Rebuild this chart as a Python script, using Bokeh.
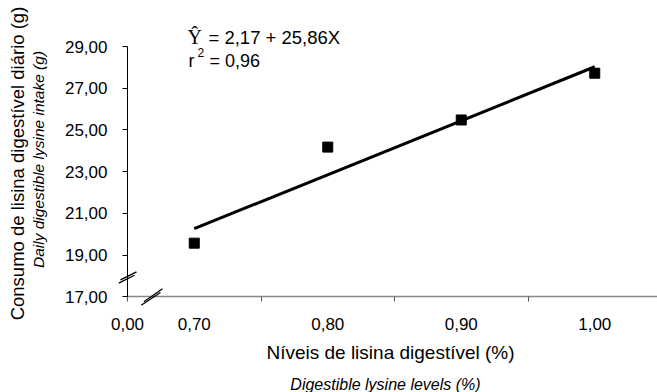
from math import pi
from bokeh.plotting import figure
from bokeh.models import Range1d, FixedTicker, Label, Arrow
from bokeh.embed import file_html
from bokeh.resources import INLINE

# ---- data ----
lysine_levels = [0.70, 0.80, 0.90, 1.00]
daily_intake = [19.58, 24.18, 25.48, 27.72]
intercept = 2.17
slope = 25.86
r_squared = 0.96
x_tick_values = [0.65, 0.70, 0.80, 0.90, 1.00]
x_tick_labels = ["0,00", "0,70", "0,80", "0,90", "1,00"]
x_minor_ticks = [0.65, 0.75, 0.85, 0.95]
y_tick_values = [17, 19, 21, 23, 25, 27, 29]
y_tick_labels = ["17,00", "19,00", "21,00", "23,00", "25,00", "27,00", "29,00"]

FONT = "Liberation Sans"

# the frame covers the whole canvas; axes are placed at fixed data locations
p = figure(width=657, height=392, output_backend="svg", toolbar_location=None,
           x_range=Range1d(0.55487, 1.047), y_range=Range1d(12.4251, 31.2036),
           min_border_left=0, min_border_right=0, min_border_top=0,
           min_border_bottom=0)
p.outline_line_color = None
p.xgrid.visible = False
p.ygrid.visible = False
p.background_fill_color = "white"
p.border_fill_color = "white"

# x axis (drawn at y = 17)
xa = p.xaxis[0]
xa.fixed_location = 17
xa.ticker = FixedTicker(ticks=x_tick_values, minor_ticks=x_minor_ticks)
xa.major_label_overrides = {v: s for v, s in zip(x_tick_values, x_tick_labels)}
xa.major_tick_out = 0
xa.major_tick_in = 0
xa.minor_tick_out = 5
xa.minor_tick_in = 0
xa.minor_tick_line_color = "#555555"
xa.axis_line_color = "#888888"
xa.axis_line_width = 1.5
xa.bounds = (0.65, 1.047)
xa.major_label_text_font = FONT
xa.major_label_text_font_size = "17px"
xa.major_label_text_color = "black"
xa.major_label_standoff = 16

# y axis (drawn at x = 0.65)
ya = p.yaxis[0]
ya.fixed_location = 0.65
ya.ticker = FixedTicker(ticks=y_tick_values)
ya.major_label_overrides = {v: s for v, s in zip(y_tick_values, y_tick_labels)}
ya.major_tick_out = 5
ya.major_tick_in = 0
ya.minor_tick_line_color = None
ya.axis_line_color = "black"
ya.major_tick_line_color = "black"
ya.bounds = (17, 29)
ya.major_label_text_font = FONT
ya.major_label_text_font_size = "17px"
ya.major_label_text_color = "black"
ya.major_label_standoff = 15

# regression line
x_fit = [lysine_levels[0], lysine_levels[-1]]
y_fit = [intercept + slope * x for x in x_fit]
p.line(x_fit, y_fit, line_color="black", line_width=3)

# observed points
p.scatter(lysine_levels, daily_intake, marker="square", size=10,
          fill_color="black", line_color="black")

# axis break marks
for xs, ys, xe, ye in [(0.64348, 17.661, 0.65524, 18.044),
                       (0.64476, 17.824, 0.65674, 18.207),
                       (0.66026, 16.607, 0.67472, 17.216),
                       (0.66221, 16.770, 0.67622, 17.393)]:
    p.add_layout(Arrow(end=None, x_start=xs, y_start=ys, x_end=xe, y_end=ye,
                       line_color="black", line_width=1.3))

# axis titles (Portuguese + English)
p.add_layout(Label(x=0.5676, y=23.395, text="Consumo de lisina digestível diário (g)",
                   angle=pi / 2, text_align="center", text_baseline="middle",
                   text_font=FONT, text_font_size="18.5px", text_color="black"))
p.add_layout(Label(x=0.58333, y=23.587, text="Daily digestible lysine intake (g)",
                   angle=pi / 2, text_align="center", text_baseline="middle",
                   text_font=FONT, text_font_style="italic", text_font_size="15.5px",
                   text_color="black"))
p.add_layout(Label(x=0.847, y=14.341, text="Níveis de lisina digestível (%)",
                   text_align="center", text_baseline="middle",
                   text_font=FONT, text_font_size="19px", text_color="black"))
p.add_layout(Label(x=0.84326, y=12.81, text="Digestible lysine levels (%)",
                   text_align="center", text_baseline="middle",
                   text_font=FONT, text_font_style="italic", text_font_size="16px",
                   text_color="black"))

# regression equation
eq_text = f"= {intercept:.2f} + {slope:.2f}X".replace(".", ",")
r2_text = f"= {r_squared:.2f}".replace(".", ",")
p.add_layout(Label(x=0.69494, y=29.44, text="Ŷ", text_align="left",
                   text_baseline="alphabetic", text_font="Liberation Serif",
                   text_font_size="20px", text_color="black"))
p.add_layout(Label(x=0.71067, y=29.44, text=eq_text,
                   text_align="left", text_baseline="alphabetic", text_font=FONT,
                   text_font_size="18.5px", text_color="black"))
p.add_layout(Label(x=0.69569, y=28.329, text="r", text_align="left",
                   text_baseline="alphabetic", text_font=FONT,
                   text_font_size="18px", text_color="black"))
p.add_layout(Label(x=0.70243, y=28.713, text="2", text_align="left",
                   text_baseline="alphabetic", text_font=FONT,
                   text_font_size="12px", text_color="black"))
p.add_layout(Label(x=0.71142, y=28.329, text=r2_text, text_align="left",
                   text_baseline="alphabetic", text_font=FONT,
                   text_font_size="18px", text_color="black"))

open("out.html", "w").write(file_html(p, INLINE))
